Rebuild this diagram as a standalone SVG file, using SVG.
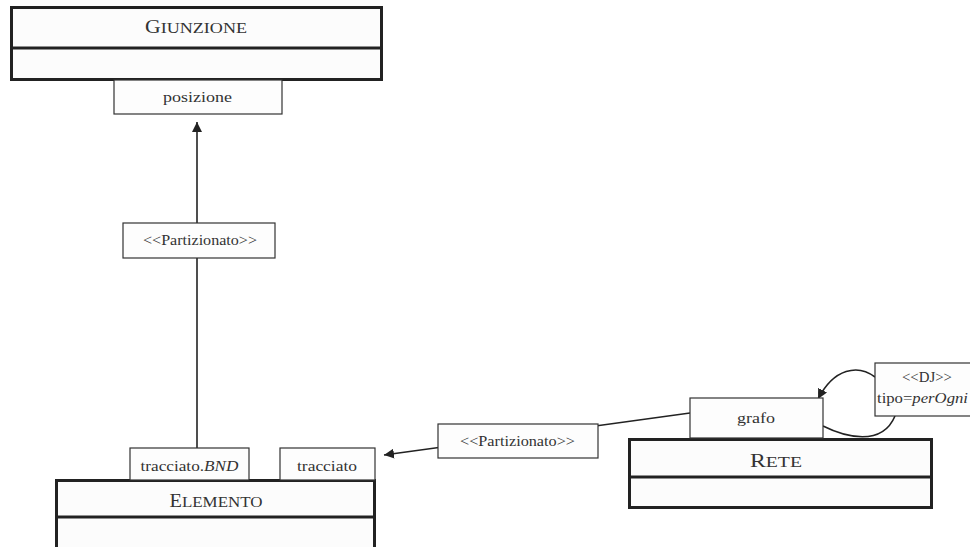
<svg xmlns="http://www.w3.org/2000/svg" width="970" height="547" viewBox="0 0 970 547">
<defs>
<marker id="arr" viewBox="0 0 10 10" refX="10" refY="5" markerWidth="10" markerHeight="10" markerUnits="userSpaceOnUse" orient="auto">
<path d="M0,0 L10,5 L0,10 Z" fill="#222"/>
</marker>
<style>
.cls{fill:#fcfcfc;stroke:#222;stroke-width:3}
.div{stroke:#222;stroke-width:3}
.att{fill:#fdfdfd;stroke:#333;stroke-width:1.2}
.con{fill:none;stroke:#222;stroke-width:1.6}
text{font-family:"Liberation Serif","DejaVu Serif",serif;fill:#333;text-anchor:middle}
.t{font-size:15px}
.big{font-size:18px}
.sc{font-size:15px}
</style>
</defs>
<rect width="970" height="547" fill="#fff"/>
<g id="connectors">
<line class="con" x1="197" y1="448" x2="197" y2="122" marker-end="url(#arr)"/>
<line class="con" x1="690" y1="413" x2="384" y2="455" marker-end="url(#arr)"/>
<path class="con" d="M875,377 C858,364 834,368 818,399" marker-end="url(#arr)"/>
<path class="con" d="M823,426 C845,437 882,447 895,416"/>
</g>
<g id="giunzione">
<rect class="cls" x="11.5" y="7.5" width="370" height="72"/>
<line class="div" x1="11.5" y1="48" x2="381.5" y2="48"/>
<text x="196" y="33" textLength="102" lengthAdjust="spacingAndGlyphs"><tspan class="big">G</tspan><tspan class="sc">IUNZIONE</tspan></text>
</g>
<g id="giunzione-posizione">
<rect class="att" x="114" y="80" width="168" height="34"/>
<text class="t" x="197.5" y="102" textLength="69" lengthAdjust="spacingAndGlyphs">posizione</text>
</g>
<g id="label-vertical">
<rect class="att" x="123" y="223" width="152" height="35"/>
<text class="t" x="200" y="245" textLength="114" lengthAdjust="spacingAndGlyphs">&lt;&lt;Partizionato&gt;&gt;</text>
</g>
<g id="elemento">
<rect class="cls" x="56.5" y="480.5" width="318" height="72"/>
<line class="div" x1="56.5" y1="517" x2="374.5" y2="517"/>
<text x="216" y="507" textLength="93" lengthAdjust="spacingAndGlyphs"><tspan class="big">E</tspan><tspan class="sc">LEMENTO</tspan></text>
</g>
<g id="elemento-tracciatoBND">
<rect class="att" x="130" y="448" width="119" height="32"/>
<text class="t" x="189.5" y="471" textLength="98" lengthAdjust="spacingAndGlyphs">tracciato.<tspan font-style="italic">BND</tspan></text>
</g>
<g id="elemento-tracciato">
<rect class="att" x="280" y="448" width="95" height="32"/>
<text class="t" x="327" y="471" textLength="60" lengthAdjust="spacingAndGlyphs">tracciato</text>
</g>
<g id="label-horizontal">
<rect class="att" x="438" y="424" width="160" height="34"/>
<text class="t" x="517.5" y="446" textLength="115" lengthAdjust="spacingAndGlyphs">&lt;&lt;Partizionato&gt;&gt;</text>
</g>
<g id="rete">
<rect class="cls" x="629.5" y="439.5" width="302" height="68"/>
<line class="div" x1="629.5" y1="477" x2="931.5" y2="477"/>
<text x="776" y="467" textLength="52" lengthAdjust="spacingAndGlyphs"><tspan class="big">R</tspan><tspan class="sc">ETE</tspan></text>
</g>
<g id="rete-grafo">
<rect class="att" x="690" y="398" width="133" height="40"/>
<text class="t" x="756" y="423" textLength="38" lengthAdjust="spacingAndGlyphs">grafo</text>
</g>
<g id="label-dj">
<rect class="att" x="875" y="363" width="100" height="53"/>
<text class="t" x="927" y="382" textLength="50" lengthAdjust="spacingAndGlyphs">&lt;&lt;DJ&gt;&gt;</text>
<text class="t" x="877" y="403" style="text-anchor:start" textLength="91" lengthAdjust="spacingAndGlyphs">tipo=<tspan font-style="italic">perOgni</tspan></text>
</g>
</svg>
